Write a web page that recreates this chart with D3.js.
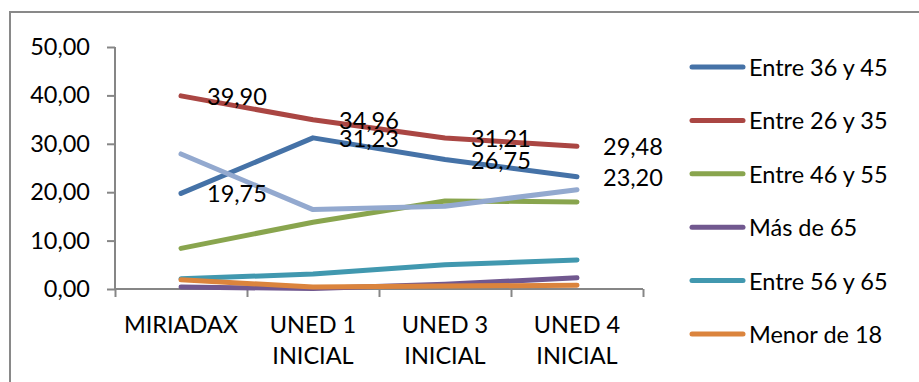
<!DOCTYPE html>
<html><head><meta charset="utf-8">
<script src="https://cdn.jsdelivr.net/npm/d3@7"></script>
<style>
html,body{margin:0;padding:0;background:#fff;}
text{font-family:Lato,"Open Sans",sans-serif;fill:#000;}
</style></head>
<body><svg id="c" width="919" height="382"></svg>
<script>
const categories = [["MIRIADAX"], ["UNED 1", "INICIAL"], ["UNED 3", "INICIAL"], ["UNED 4", "INICIAL"]];
const categoryKeys = ["MIRIADAX", "UNED 1 INICIAL", "UNED 3 INICIAL", "UNED 4 INICIAL"];
const seriesNames = ["Entre 36 y 45", "Entre 26 y 35", "Entre 46 y 55", "Más de 65", "Entre 56 y 65", "Menor de 18", "Entre 18 y 25"];
const seriesColors = ["#4572A7", "#AA4643", "#89A54E", "#71588F", "#4198AF", "#DB843D", "#93A9CF"];
const entre36y45 = [19.75, 31.23, 26.75, 23.20];
const entre26y35 = [39.90, 34.96, 31.21, 29.48];
const entre46y55 = [8.4, 13.8, 18.2, 18.0];
const masDe65 = [0.4, 0.1, 1.0, 2.3];
const entre56y65 = [2.1, 3.1, 5.0, 6.0];
const menorDe18 = [1.9, 0.4, 0.6, 0.8];
const entre18y25 = [27.9, 16.4, 17.1, 20.5];
const seriesValues = [entre36y45, entre26y35, entre46y55, masDe65, entre56y65, menorDe18, entre18y25];
const labelledSeries = [0, 1];
const legendCount = 6;
const yTicks = [0, 10, 20, 30, 40, 50];

const fmt = v => v.toFixed(2).replace(".", ",");
const svg = d3.select("#c");
const FS = 23.5;

// outer border
svg.append("rect").attr("x", 10).attr("y", 12).attr("width", 930).attr("height", 400)
  .attr("fill", "none").attr("stroke", "#898989").attr("stroke-width", 2);

const x = d3.scaleBand().domain(categoryKeys).range([115, 643]);
const xb = d3.scaleLinear().domain([0, categoryKeys.length]).range([115, 643]);
const y = d3.scaleLinear().domain([0, 50]).range([289, 47]);
const cx = k => x(k) + x.bandwidth() / 2;

// y axis
const ya = svg.append("g").attr("transform", "translate(115,0)")
  .call(d3.axisLeft(y).tickValues(yTicks).tickSize(8).tickPadding(17).tickFormat(fmt));
ya.select(".domain").attr("stroke", "#868686").attr("stroke-width", 2).attr("d", "M0,289V47");
ya.selectAll(".tick line").attr("stroke", "#868686").attr("stroke-width", 2);
ya.selectAll(".tick text").style("font-size", FS + "px").attr("font-family", null);

// x axis
const xa = svg.append("g").attr("transform", "translate(0,289)")
  .call(d3.axisBottom(xb).tickValues(d3.range(categoryKeys.length + 1)).tickSize(8).tickFormat(""));
xa.select(".domain").attr("stroke", "#868686").attr("stroke-width", 2).attr("d", "M115,0H643");
xa.selectAll(".tick line").attr("stroke", "#868686").attr("stroke-width", 2);

// category labels
categories.forEach((lines, i) => {
  const t = svg.append("text").attr("text-anchor", "middle").style("font-size", FS + "px");
  lines.forEach((ln, j) => {
    t.append("tspan").attr("x", cx(categoryKeys[i])).attr("y", 324 + j * 31)
      .attr("dominant-baseline", "central").text(ln);
  });
});

// lines
const line = d3.line().x((d, i) => cx(categoryKeys[i])).y(d => y(d));
seriesValues.forEach((vals, s) => {
  svg.append("path").datum(vals).attr("d", line).attr("fill", "none")
    .attr("stroke", seriesColors[s]).attr("stroke-width", 5)
    .attr("stroke-linecap", "round").attr("stroke-linejoin", "round");
});

// data labels
labelledSeries.forEach(s => {
  seriesValues[s].forEach((v, i) => {
    svg.append("text").attr("x", cx(categoryKeys[i]) + 26).attr("y", y(v))
      .attr("dominant-baseline", "central").style("font-size", FS + "px").text(fmt(v));
  });
});

// legend
for (let s = 0; s < legendCount; s++) {
  const ly = 67 + s * 53.4;
  svg.append("line").attr("x1", 692).attr("x2", 743).attr("y1", ly).attr("y2", ly)
    .attr("stroke", seriesColors[s]).attr("stroke-width", 5).attr("stroke-linecap", "round");
  svg.append("text").attr("x", 749).attr("y", ly).attr("dominant-baseline", "central")
    .style("font-size", FS + "px").text(seriesNames[s]);
}
</script></body></html>
